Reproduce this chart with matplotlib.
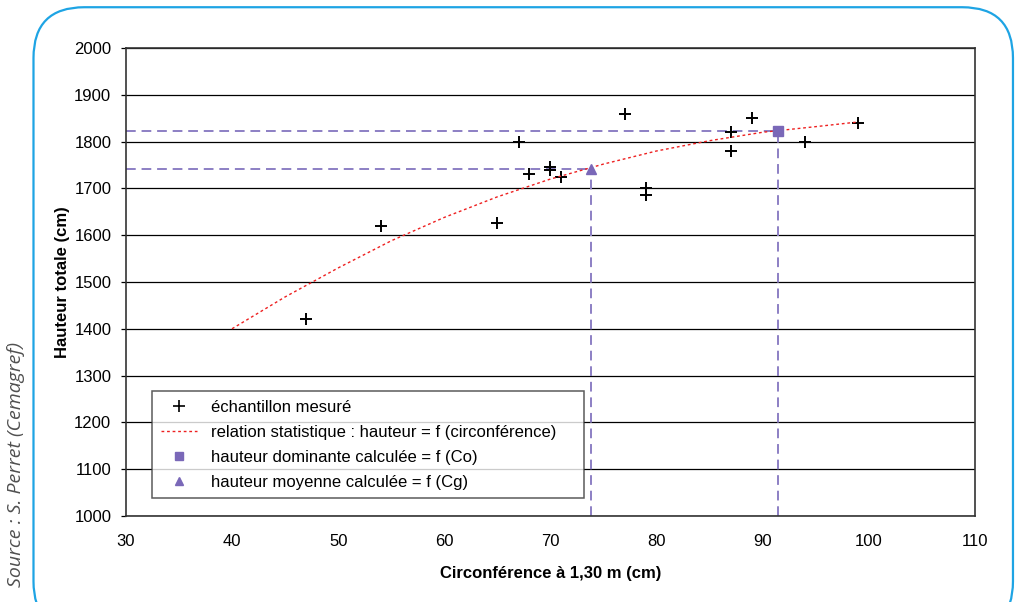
import matplotlib.pyplot as plt
from matplotlib.patches import FancyBboxPatch
from matplotlib.lines import Line2D

plt.rcParams['font.family'] = ['Liberation Sans', 'DejaVu Sans']

# mesures (circonference cm, hauteur cm)
circ = [47, 54, 65, 67, 68, 70, 70, 71, 77, 79, 79, 87, 87, 89, 94, 99]
haut = [1420, 1620, 1625, 1800, 1730, 1745, 1740, 1725, 1860, 1700, 1685, 1820, 1780, 1850, 1800, 1840]

# courbe de relation statistique
curve_x = [40, 45, 50, 55, 60, 65, 70, 75, 80, 85, 90, 95, 99]
curve_y = [1400, 1468, 1530, 1588, 1638, 1682, 1720, 1752, 1780, 1802, 1820, 1832, 1842]

# points calcules
co, h_dom = 91.45, 1823
cg, h_moy = 73.8, 1742

xticks = [30, 40, 50, 60, 70, 80, 90, 100, 110]
yticks = list(range(1000, 2001, 100))

purple = '#8c7fc4'

fig = plt.figure(figsize=(10.15, 6.02), dpi=100)
ax = fig.add_axes([0.124, 0.143, 0.8366, 0.7772])

# cadre arrondi bleu
frame = FancyBboxPatch((0.033, -0.05), 0.965, 1.038, boxstyle='round,pad=0,rounding_size=0.05',
                       transform=fig.transFigure, fill=False, edgecolor='#1ea4e4', linewidth=1.6,
                       mutation_aspect=1015 / 602, clip_on=False)
fig.patches.append(frame)

fig.text(0.016, 0.228, 'Source : S. Perret (Cemagref)', rotation=90, va='center', ha='center',
         fontsize=14, style='italic', color='#505050', family=['Open Sans', 'DejaVu Sans'])

for y in yticks:
    ax.axhline(y, color='black', linewidth=0.9, zorder=1)

# lignes de lecture
ax.plot([30, co], [h_dom, h_dom], color=purple, linestyle=(0, (5, 3)), linewidth=1.4, zorder=2)
ax.plot([co, co], [1000, h_dom], color=purple, linestyle=(0, (5, 3)), linewidth=1.4, zorder=2)
ax.plot([30, cg], [h_moy, h_moy], color=purple, linestyle=(0, (5, 3)), linewidth=1.4, zorder=2)
ax.plot([cg, cg], [1000, h_moy], color=purple, linestyle=(0, (5, 3)), linewidth=1.4, zorder=2)

ax.scatter(circ, haut, marker='+', s=80, color='black', linewidths=1.4, zorder=4)
ax.plot(curve_x, curve_y, color='#ee2020', linestyle=(0, (2, 2)), linewidth=1.0, zorder=5)
ax.plot([co], [h_dom], marker='s', markersize=7, color='#7a68b8', linestyle='none', zorder=6)
ax.plot([cg], [h_moy], marker='^', markersize=7, color='#7a68b8', linestyle='none', zorder=6)

ax.set_xlim(30, 110)
ax.set_ylim(1000, 2000)
ax.set_xticks(xticks)
ax.set_yticks(yticks)
ax.tick_params(axis='x', length=0, labelsize=12, pad=13)
ax.tick_params(axis='y', length=3.5, width=0.9, labelsize=12, pad=7)
for s in ax.spines.values():
    s.set_color('#333333')
    s.set_linewidth(1.2)

ax.set_xlabel('Circonférence à 1,30 m (cm)', fontsize=12, fontweight='bold', labelpad=12)
ax.set_ylabel('Hauteur totale (cm)', fontsize=12, fontweight='bold', labelpad=3)

handles = [
    Line2D([], [], marker='+', color='black', linestyle='none', markersize=9, markeredgewidth=1.2),
    Line2D([], [], color='#ee2020', linestyle=(0, (2, 2)), linewidth=1.0),
    Line2D([], [], marker='s', color='#7a68b8', linestyle='none', markersize=6),
    Line2D([], [], marker='^', color='#7a68b8', linestyle='none', markersize=6),
]
labels = ['échantillon mesuré', 'relation statistique : hauteur = f (circonférence)',
          'hauteur dominante calculée = f (Co)', 'hauteur moyenne calculée = f (Cg)']
leg = ax.legend(handles, labels, loc='lower left', bbox_to_anchor=(0.031, 0.038, 0.508, 0.2),
                mode='expand', fontsize=12, frameon=True, fancybox=False, edgecolor='#333333',
                handlelength=2.2, borderpad=0.5, labelspacing=0.6, handletextpad=0.8, borderaxespad=0)
leg.get_frame().set_linewidth(1.1)
leg.set_zorder(10)

fig.savefig('out.png', dpi=100)
